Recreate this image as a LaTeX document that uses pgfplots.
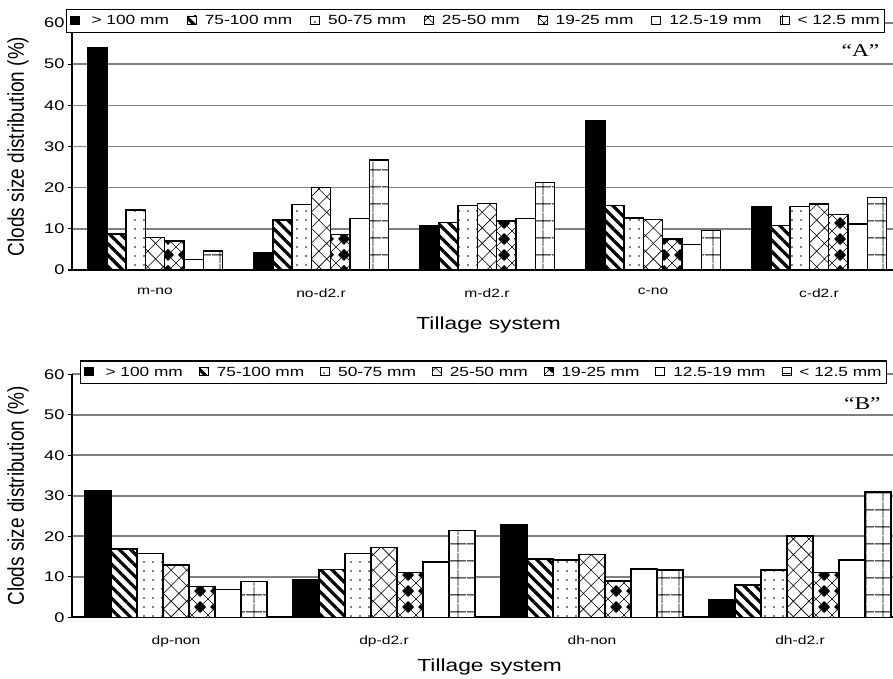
\documentclass[border=0pt]{standalone}
\usepackage{graphicx}
\usepackage{fontspec}
\setmainfont{Liberation Sans}[FakeStretch=1.3]
\newfontfamily\plainsans{Liberation Sans}
\newfontfamily\timesf{Liberation Serif}[FakeStretch=1.3]
\usepackage{pgfplots}
\pgfplotsset{compat=1.18}
\usepackage{pgfplotstable}
\usetikzlibrary{patterns,patterns.meta}

\pgfdeclarepatternformonly{bigdiamonds}{\pgfpoint{-1pt}{-1pt}}{\pgfpoint{17pt}{17pt}}{\pgfpoint{16pt}{16pt}}{%
  \pgfsetlinewidth{0.5pt}%
  \pgfpathmoveto{\pgfpoint{0pt}{0pt}}\pgfpathlineto{\pgfpoint{16pt}{16pt}}%
  \pgfpathmoveto{\pgfpoint{16pt}{0pt}}\pgfpathlineto{\pgfpoint{0pt}{16pt}}%
  \pgfusepath{stroke}%
  \pgfpathmoveto{\pgfpoint{8pt}{2pt}}\pgfpathlineto{\pgfpoint{14pt}{8pt}}%
  \pgfpathlineto{\pgfpoint{8pt}{14pt}}\pgfpathlineto{\pgfpoint{2pt}{8pt}}\pgfpathclose
  \pgfusepath{fill}%
}

\pgfplotstableread{
x  s1   s2   s3   s4   s5   s6   s7
0  54.1 8.8  14.6 7.9  7.1  2.6  4.6
1  4.3  12.1 15.9 20.1 8.6  12.5 26.7
2  10.8 11.5 15.7 16.2 11.9 12.5 21.3
3  36.2 15.7 12.6 12.3 7.5  6.2  9.6
4  15.4 10.8 15.4 16.0 13.5 11.2 17.6
}\dataA

\pgfplotstableread{
x  s1   s2   s3   s4   s5   s6   s7
0  31.2 16.9 15.8 12.9 7.6  6.9  8.8
1  9.2  11.8 15.8 17.2 11.0 13.7 21.4
2  22.8 14.4 14.1 15.5 9.0  11.9 11.7
3  4.3  8.0  11.7 20.1 11.0 14.1 30.9
}\dataB

\pgfplotsset{
  sA/.style={fill=black, draw=black},
  sB/.style={fill=white, draw=black, postaction={pattern={Lines[angle=-45,distance=8pt,line width=3.2pt]}}},
  sC/.style={fill=white, draw=black, postaction={pattern={Dots[distance=9pt,radius=0.8pt]}}},
  sD/.style={fill=white, draw=black, postaction={pattern={Hatch[angle=45,distance=11pt,line width=0.6pt]}}},
  sE/.style={fill=white, draw=black, postaction={pattern=bigdiamonds}},
  sF/.style={fill=white, draw=black},
  sG/.style={fill=white, draw=black, postaction={pattern={Hatch[angle=0,distance=17pt,line width=0.9pt]}}},
  common/.style={
    scale only axis,
    ymin=0, ymax=60, ytick={0,10,...,60},
    axis x line=bottom, axis y line=left,
    axis line style={-, line width=1.6pt},
    ymajorgrids, grid style={draw=black!50, line width=1.6pt},
    ytick pos=left, tick align=outside,
    major tick length=4pt,
    tick style={line width=1.2pt, black},
    /pgf/number format/assume math mode=true,
    yticklabel style={font=\fontsize{14}{16}\selectfont},
    xticklabel style={font=\fontsize{12}{14}\selectfont, yshift=-11pt},
    x tick style={draw=none},
    extra x tick style={tick align=inside, major tick length=3pt, tick style={draw=black, line width=1.2pt}, grid=none},
    ylabel={\scalebox{1}[1.2]{Clods size distribution (\%)}},
    ylabel style={font=\plainsans\fontsize{19}{22}\selectfont, at={(axis description cs:-0.065,0.5)}, anchor=center},
    xlabel={Tillage system},
    ybar=0pt,
    every axis plot/.append style={line width=1.5pt},
    legend columns=-1,
    legend cell align=left,
    legend style={fill=white, draw=black, line width=1.3pt, font=\fontsize{13.3}{15}\selectfont,
      inner xsep=3pt, inner ysep=4pt,
      /tikz/every odd column/.append style={column sep=6pt}},
    legend image code/.code={\draw[#1, line width=0.9pt] (0pt,-3.5pt) rectangle (9pt,5pt);},
  }
}

\begin{document}
\begin{tikzpicture}
\useasboundingbox (0,0) rectangle (893pt,679pt);

\begin{axis}[common,
  at={(72pt,409pt)}, anchor=south west,
  width=830pt, height=247pt,
  xmin=-0.5, xmax=4.5,
  xtick={0,1,2,3,4},
  xticklabels={m-no,no-d2.r,m-d2.r,c-no,c-d2.r},
  extra x ticks={0.5,1.5,2.5,3.5},
  extra x tick labels={},
  bar width=19.3pt,
  xlabel style={font=\fontsize{17.5}{20}\selectfont, at={(axis description cs:0.502,-0.223)}, anchor=center},
  legend style={at={(axis description cs:-0.0072,1.057)}, anchor=north west,
    /tikz/every even column/.append style={column sep=16pt}},
]
\addplot[sA] table[x=x,y=s1]{\dataA};
\addplot[sB] table[x=x,y=s2]{\dataA};
\addplot[sC] table[x=x,y=s3]{\dataA};
\addplot[sD] table[x=x,y=s4]{\dataA};
\addplot[sE] table[x=x,y=s5]{\dataA};
\addplot[sF] table[x=x,y=s6]{\dataA};
\addplot[sG] table[x=x,y=s7]{\dataA};
\legend{\hspace{4pt}> 100 mm\hspace{10pt}, 75-100 mm, 50-75 mm, 25-50 mm, 19-25 mm, 12.5-19 mm, < 12.5 mm\hspace{12pt}}
\node[font=\timesf\fontsize{18}{20}\selectfont] at (rel axis cs:0.95,0.89) {“A”};
\end{axis}

\begin{axis}[common,
  at={(72pt,61.7pt)}, anchor=south west,
  width=832pt, height=243pt,
  xmin=-0.5, xmax=3.5,
  xtick={0,1,2,3},
  xticklabels={dp-non,dp-d2.r,dh-non,dh-d2.r},
  extra x ticks={0.5,1.5,2.5},
  extra x tick labels={},
  bar width=26pt,
  xlabel style={font=\fontsize{17.5}{20}\selectfont, at={(axis description cs:0.502,-0.205)}, anchor=center},
  legend style={at={(axis description cs:0.0096,1.058)}, anchor=north west,
    /tikz/every even column/.append style={column sep=14pt}},
]
\addplot[sA] table[x=x,y=s1]{\dataB};
\addplot[sB] table[x=x,y=s2]{\dataB};
\addplot[sC] table[x=x,y=s3]{\dataB};
\addplot[sD] table[x=x,y=s4]{\dataB};
\addplot[sE] table[x=x,y=s5]{\dataB};
\addplot[sF] table[x=x,y=s6]{\dataB};
\addplot[sG] table[x=x,y=s7]{\dataB};
\legend{\hspace{4pt}> 100 mm\hspace{6pt}, 75-100 mm, 50-75 mm, 25-50 mm, 19-25 mm, 12.5-19 mm, < 12.5 mm\hspace{12pt}}
\node[font=\timesf\fontsize{18}{20}\selectfont] at (rel axis cs:0.95,0.88) {“B”};
\end{axis}
\end{tikzpicture}
\end{document}
